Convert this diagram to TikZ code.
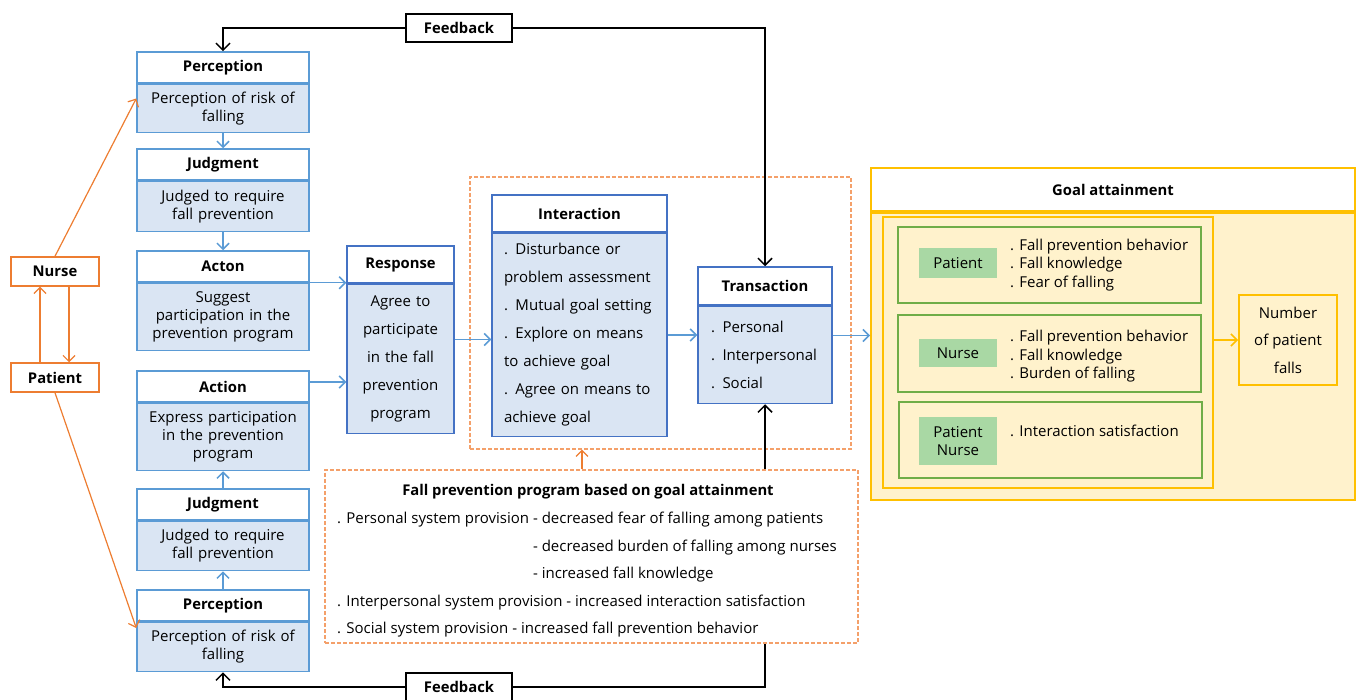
\documentclass[tikz,border=0pt]{standalone}
\usepackage{fontspec}
\setmainfont{Open Sans}
\usetikzlibrary{arrows.meta,positioning}
\definecolor{stageblue}{HTML}{5B9BD5}
\definecolor{coreblue}{HTML}{4472C4}
\definecolor{stagefill}{HTML}{DAE5F3}
\definecolor{actor}{HTML}{ED7D31}
\definecolor{program}{HTML}{F4A06A}
\definecolor{goalline}{HTML}{FFC000}
\definecolor{goalfill}{HTML}{FFF2CC}
\definecolor{outcome}{HTML}{70AD47}
\definecolor{outcomefill}{HTML}{A9D8A4}

\begin{document}
\begin{tikzpicture}[x=1pt, y=-1pt,
  head/.style={draw=stageblue, fill=white, line width=1.5pt, minimum width=172pt, minimum height=31pt, inner sep=0pt, font=\fontsize{14.8}{18}\selectfont\bfseries},
  body/.style={draw=stageblue, fill=stagefill, line width=1.5pt, text width=166pt, inner xsep=3pt, align=center, font=\fontsize{15}{18}\selectfont},
  corehead/.style={head, draw=coreblue, minimum height=37pt},
  corebody/.style={body, draw=coreblue, font=\fontsize{15}{28}\selectfont},
  actorbox/.style={draw=actor, line width=1.5pt, minimum width=88pt, minimum height=29pt, font=\fontsize{14.8}{18}\selectfont\bfseries},
  fbbox/.style={draw, line width=1.5pt, fill=white, minimum width=106pt, minimum height=28pt, font=\fontsize{14.8}{18}\selectfont\bfseries},
  ctxbox/.style={draw=program, line width=1.2pt, dash pattern=on 4pt off 2pt},
  goalbox/.style={draw=goalline, line width=2pt},
  outbox/.style={draw=outcome, line width=2pt, minimum width=303pt},
  tag/.style={fill=outcomefill, minimum width=78pt, align=center, font=\fontsize{15}{18.5}\selectfont},
  items/.style={align=left, inner sep=0pt, font=\fontsize{15}{18.5}\selectfont},
  barr/.style={-{Straight Barb[length=6pt,width=12pt]}, draw=stageblue, line width=1.5pt},
  karr/.style={-{Straight Barb[length=7pt,width=14pt]}, line width=1.5pt},
  oarr/.style={-{Straight Barb[length=6pt,width=12pt]}, draw=actor, line width=1.2pt},
  yarr/.style={-{Straight Barb[length=6pt,width=12pt]}, draw=goalline, line width=1.5pt}
]
  \useasboundingbox (0,0) rectangle (1359,700);

  % nurse and patient
  \node[actorbox] (nur) at (55,271.5) {Nurse};
  \node[actorbox] (pat) at (55,377.5) {Patient};

  % nurse stages
  \node[head] (perNh) at (223,67.5) {Perception};
  \node[body, minimum height=48pt, below=0pt of perNh] (perNb) {Perception of risk of\\falling};
  \node[head, below=15pt of perNb] (judNh) {Judgment};
  \node[body, minimum height=50pt, below=0pt of judNh] (judNb) {Judged to require\\fall prevention};
  \node[head, below=18pt of judNb] (actNh) {Acton};
  \node[body, minimum height=67pt, below=0pt of actNh] (actNb) {Suggest\\participation in the\\prevention program};

  % patient stages
  \node[head] (actPh) at (223,386.5) {Action};
  \node[body, minimum height=67pt, below=0pt of actPh] (actPb) {Express participation\\in the prevention\\program};
  \node[head, below=17pt of actPb] (judPh) {Judgment};
  \node[body, minimum height=49pt, below=0pt of judPh] (judPb) {Judged to require\\fall prevention};
  \node[head, below=18pt of judPb] (perPh) {Perception};
  \node[body, minimum height=49pt, below=0pt of perPh] (perPb) {Perception of risk of\\falling};

  % response, interaction, transaction
  \node[corehead, minimum width=107pt] (resh) at (400.5,264.5) {Response};
  \node[corebody, text width=101pt, minimum height=149pt, below=0pt of resh] (resb) {Agree to\\participate\\in the fall\\prevention\\program};

  \node[ctxbox, minimum width=381pt, minimum height=272pt] (ctx) at (660.5,313) {};
  \node[corehead, minimum width=175pt] (inth) at (579.5,213.5) {Interaction};
  \node[corebody, align=left, text width=151pt, inner xsep=12pt, minimum height=203pt, below=0pt of inth] (intb)
    {. Disturbance or\\problem assessment\\. Mutual goal setting\\. Explore on means\\to achieve goal\\. Agree on means to\\achieve goal};
  \node[corehead, minimum width=134pt, minimum height=38pt] (trh) at (765,286) {Transaction};
  \node[corebody, align=left, text width=108pt, inner xsep=13pt, minimum height=97pt, below=0pt of trh] (trb)
    {. Personal\\. Interpersonal\\. Social};

  % program
  \node[ctxbox, minimum width=533pt, minimum height=173pt] (prog) at (591.5,556.5) {};
  \node[font=\fontsize{14.8}{18}\selectfont\bfseries] (progt) at (588,492) {Fall prevention program based on goal attainment};
  \node[anchor=north west, align=left, inner sep=0pt, font=\fontsize{15}{27.5}\selectfont] (progl) at (337,512)
    {. Personal system provision - decreased fear of falling among patients\\
     \phantom{. Personal system provision }- decreased burden of falling among nurses\\
     \phantom{. Personal system provision }- increased fall knowledge\\
     . Interpersonal system provision - increased interaction satisfaction\\
     . Social system provision - increased fall prevention behavior};

  % feedback
  \node[fbbox] (fbT) at (459,28) {Feedback};
  \node[fbbox] (fbB) at (459,687) {Feedback};

  % goal attainment
  \node[goalbox, fill=white, minimum width=484pt, minimum height=43pt, font=\fontsize{14.8}{18}\selectfont\bfseries] (goalh) at (1113,189.5) {Goal attainment};
  \node[goalbox, fill=goalfill, minimum width=484pt, minimum height=287pt, below=0pt of goalh] (goalb) {};
  \node[goalbox, fill=goalfill, minimum width=330pt, minimum height=271pt] (inner) at (1048,352.5) {};
  \node[outbox, minimum height=76pt] (outP) at (1049.5,265) {};
  \node[outbox, minimum height=77pt] (outN) at (1049.5,353.5) {};
  \node[outbox, minimum height=76pt] (outB) at (1050,440) {};
  \node[tag, minimum height=30pt] (tagP) at (958,263) {Patient};
  \node[tag, minimum height=28pt] (tagN) at (958,353) {Nurse};
  \node[tag, minimum height=48pt] (tagB) at (958,441) {Patient\\Nurse};
  \node[items, anchor=west] (itP) at (1010,265) {. Fall prevention behavior\\. Fall knowledge\\. Fear of falling};
  \node[items, anchor=west] (itN) at (1010,356.5) {. Fall prevention behavior\\. Fall knowledge\\. Burden of falling};
  \node[items, anchor=west] (itB) at (1010,431) {. Interaction satisfaction};
  \node[goalbox, fill=goalfill, minimum width=98pt, minimum height=90pt, align=center, font=\fontsize{15}{27.5}\selectfont] (falls) at (1288,340) {Number\\of patient\\falls};

  % connectors
  \draw[oarr] (nur.north) -- ([yshift=10pt]perNb.west);
  \draw[oarr] (pat.south) -- ([yshift=19pt]perPb.west);
  \draw[oarr] ([xshift=-15pt]pat.north) -- ([xshift=-15pt]nur.south);
  \draw[oarr] ([xshift=14pt]nur.south) -- ([xshift=14pt]pat.north);

  \draw[barr] (perNb) -- (judNh);
  \draw[barr] (judNb) -- (actNh);
  \draw[barr] (perPh) -- (judPb);
  \draw[barr] (judPh) -- (actPb);
  \draw[barr] (actNh.south east) -- (actNh.south east -| resb.west);
  \draw[barr] ([yshift=4.5pt]actPh.east) -- ([yshift=4.5pt]actPh.east -| resb.west);
  \draw[barr] ([yshift=19.5pt]resb.east) -- ([yshift=19.5pt]resb.east -| intb.west);
  \draw[barr] (intb.east) -- (intb.east -| trb.west);
  \draw[barr] ([yshift=19.5pt]trb.east) -- ([yshift=19.5pt]trb.east -| goalb.west);
  \draw[yarr] (inner.east |- falls.west) -- (falls.west);
  \draw[oarr] ([xshift=-9.5pt]prog.north) -- ([xshift=-9.5pt]prog.north |- ctx.south);

  \draw[karr] (fbT.west) -| (perNh.north);
  \draw[karr] (fbT.east) -| (trh.north);
  \draw[karr] (fbB.west) -| (perPb.south);
  \draw[line width=1.5pt] (fbB.east) -| (trb.south |- prog.south);
  \draw[karr] (trb.south |- prog.north) -- (trb.south);
\end{tikzpicture}
\end{document}
